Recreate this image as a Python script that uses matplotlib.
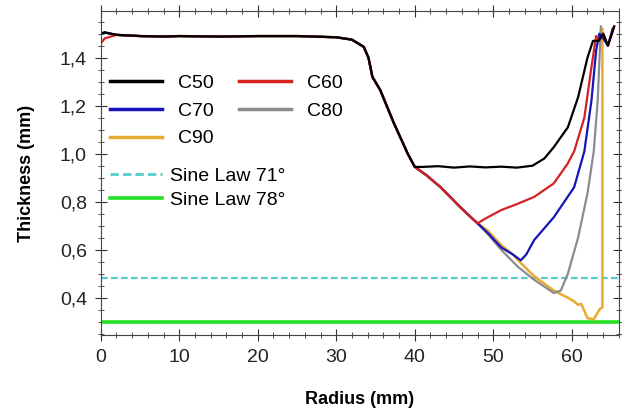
import matplotlib.pyplot as plt
from matplotlib.ticker import MultipleLocator, FuncFormatter
from matplotlib.lines import Line2D

# common part of the profiles (0 -> 40 mm)
r_base = [0, 0.5, 2, 5, 8, 10, 15, 20, 25, 30, 32, 33.5, 34.1, 34.6, 35.6, 37.3, 39.1, 40]
t_base = [1.50, 1.505, 1.495, 1.49, 1.488, 1.49, 1.488, 1.49, 1.49, 1.485, 1.475, 1.445,
          1.40, 1.32, 1.265, 1.13, 1.00, 0.945]

# common decline after 40 mm (C60..C90)
r_decl = [41.5, 43.3, 44.5, 45.8, 47, 48]
t_decl = [0.91, 0.86, 0.82, 0.777, 0.74, 0.71]

c50_r = r_base + [41, 43, 45, 47, 49, 51, 53, 55, 56.5, 57.7, 59.5, 60.8, 62.0, 62.7, 63.4, 64.0, 64.6, 65.4]
c50_t = t_base + [0.945, 0.948, 0.942, 0.947, 0.943, 0.946, 0.942, 0.95, 0.98, 1.027, 1.11, 1.235,
                  1.40, 1.47, 1.47, 1.50, 1.45, 1.53]

c60_r = r_base + r_decl + [49, 51, 53, 55.2, 57.7, 59.5, 60.3, 61.6, 62.5, 63.1, 63.5, 64.0, 64.6, 65.4]
c60_t = [1.46, 1.48] + t_base[2:] + t_decl + [0.73, 0.765, 0.79, 0.82, 0.876, 0.96, 1.01, 1.15,
                                               1.36, 1.49, 1.47, 1.50, 1.45, 1.53]

c70_r = r_base + r_decl + [49.3, 51, 52.5, 53.5, 54.2, 55.2, 57.7, 60.3, 61.6, 62.5, 63.1, 63.5, 64.0, 64.6, 65.2]
c70_t = t_base + t_decl + [0.67, 0.61, 0.58, 0.556, 0.58, 0.64, 0.735, 0.86, 1.01, 1.22, 1.43,
                           1.50, 1.48, 1.45, 1.52]

c80_r = r_base + r_decl + [49.3, 51, 53.1, 55.2, 57.7, 58.6, 59.5, 60.8, 62.0, 62.8, 63.3, 63.7]
c80_t = t_base + t_decl + [0.665, 0.60, 0.53, 0.475, 0.42, 0.43, 0.50, 0.65, 0.835, 1.01, 1.22, 1.53]

c90_r = r_base + r_decl + [49.3, 51, 52.5, 53.5, 55.2, 57.7, 59.5, 60.3, 60.8, 61.2, 62.0, 62.8, 63.5, 63.9, 63.9]
c90_t = t_base + t_decl + [0.68, 0.62, 0.58, 0.545, 0.49, 0.43, 0.40, 0.385, 0.37, 0.375, 0.315,
                           0.31, 0.35, 0.36, 1.52]

sine71 = 0.483
sine78 = 0.30

plt.rcParams['font.family'] = ['Liberation Sans', 'DejaVu Sans']

fig = plt.figure(figsize=(6.22, 4.11), dpi=100)
ax = fig.add_axes([0.162, 0.185, 0.833, 0.788])

ax.axhline(sine71, color='#55cccc', lw=1.6, ls=(0, (3, 1.5)))
ax.axhline(sine78, color='#22e022', lw=2.6)

ax.plot(c90_r, c90_t, color='#e8aa30', lw=1.8)
ax.plot(c80_r, c80_t, color='#8c8c8c', lw=1.6)
ax.plot(c70_r, c70_t, color='#1414b8', lw=1.6)
ax.plot(c60_r, c60_t, color='#d42222', lw=1.6)
ax.plot(c50_r, c50_t, color='black', lw=1.6)

ax.set_xlim(0, 66)
ax.set_ylim(0.245, 1.594)
ax.xaxis.set_major_locator(MultipleLocator(10))
ax.xaxis.set_minor_locator(MultipleLocator(2))
ax.yaxis.set_major_locator(MultipleLocator(0.2))
ax.yaxis.set_minor_locator(MultipleLocator(0.05))
ax.yaxis.set_major_formatter(FuncFormatter(lambda v, p: f'{v:.1f}'.replace('.', ',')))
ax.tick_params(which='both', direction='inout', top=True, right=True, colors='#333333',
               labelsize=14, labelcolor='#222222')
ax.tick_params(which='major', length=8, pad=6)
ax.tick_params(which='minor', length=4)
for s in ax.spines.values():
    s.set_color('#444444')

ax.set_xlabel('Radius (mm)', fontsize=13, fontweight='bold', labelpad=18)
ax.set_ylabel('Thickness (mm)', fontsize=13, fontweight='bold', labelpad=18)

h1 = [Line2D([], [], color='black', lw=2.5), Line2D([], [], color='#1414b8', lw=2.5),
      Line2D([], [], color='#e8aa30', lw=2.5), Line2D([], [], color='#d42222', lw=2.5),
      Line2D([], [], color='#8c8c8c', lw=2.5)]
leg1 = ax.legend(h1, ['C50', 'C70', 'C90', 'C60', 'C80'], ncol=2, loc='upper left',
                 bbox_to_anchor=(0.017, 0.805), frameon=False, fontsize=14, borderpad=0,
                 borderaxespad=0, handlelength=2.7, handletextpad=0.8, columnspacing=1.3,
                 labelspacing=0.52)
ax.add_artist(leg1)
h2 = [Line2D([], [], color='#55cccc', lw=2, ls=(0, (3, 1.5))), Line2D([], [], color='#22e022', lw=2.6)]
ax.legend(h2, ['Sine Law 71°', 'Sine Law 78°'], loc='upper left', bbox_to_anchor=(0.017, 0.518),
          frameon=False, fontsize=14, borderpad=0, borderaxespad=0, handlelength=2.7,
          handletextpad=0.4, labelspacing=0.35)

fig.savefig('out.png', dpi=100)
